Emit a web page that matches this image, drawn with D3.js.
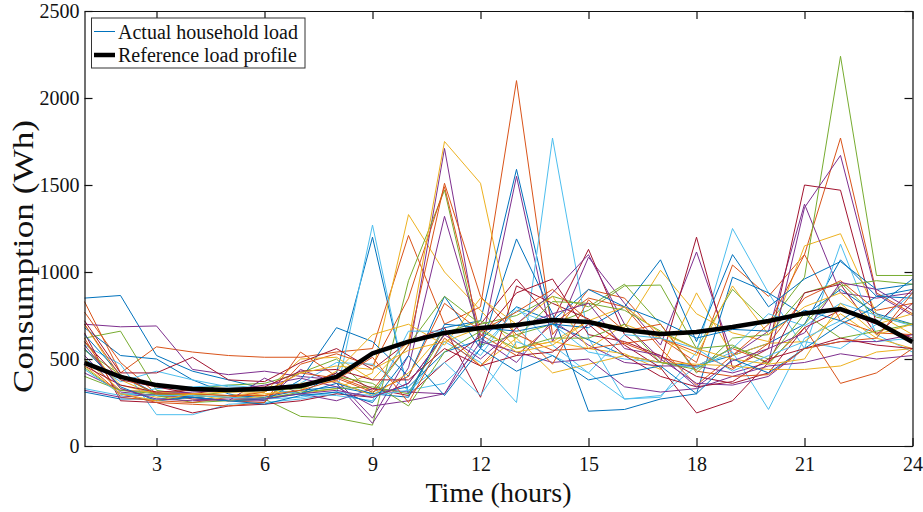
<!DOCTYPE html>
<html>
<head>
<meta charset="utf-8">
<script src="https://cdn.jsdelivr.net/npm/d3@7"></script>
<style>
  html, body { margin: 0; padding: 0; background: #fff; }
  svg { display: block; }
  text { font-family: "Liberation Serif", "Times New Roman", serif; fill: #111; }
</style>
</head>
<body>
<svg id="chart" width="923" height="512"></svg>
<script>
// ---------------- data ----------------
const hours = d3.range(1, 25);
const xTicks = [3, 6, 9, 12, 15, 18, 21, 24];
const yTicks = [0, 500, 1000, 1500, 2000, 2500];
const seriesNames = ["Actual household load", "Reference load profile"];

const referenceLoad = [478, 397, 350, 328, 322, 328, 345, 397, 532, 600, 650, 678, 695, 724, 713, 667, 644, 655, 684, 718, 762, 787, 713, 598];

const household01 = [850, 865, 520, 430, 380, 330, 300, 420, 1200, 300, 680, 720, 1590, 700, 610, 520, 480, 460, 520, 590, 700, 1070, 860, 900];
const household02 = [830, 420, 570, 540, 520, 510, 510, 540, 560, 1210, 700, 800, 2100, 640, 900, 850, 620, 480, 1040, 860, 1100, 1770, 880, 760];
const household03 = [700, 380, 290, 270, 260, 280, 300, 330, 420, 1330, 1000, 780, 560, 600, 720, 680, 1010, 760, 650, 600, 1150, 1220, 760, 640];
const household04 = [700, 685, 690, 440, 410, 430, 400, 380, 160, 520, 1710, 560, 1550, 600, 1085, 820, 580, 1115, 520, 660, 1390, 880, 850, 880];
const household05 = [620, 660, 320, 290, 280, 270, 170, 160, 120, 950, 1470, 580, 640, 700, 780, 920, 925, 560, 900, 700, 970, 2240, 980, 980];
const household06 = [580, 470, 180, 180, 240, 250, 270, 300, 1270, 290, 600, 480, 250, 1770, 620, 270, 280, 540, 1250, 880, 560, 1160, 640, 540];
const household07 = [650, 260, 250, 190, 230, 240, 260, 300, 280, 360, 640, 700, 960, 720, 1130, 640, 480, 1200, 450, 560, 1500, 1470, 700, 900];
const household08 = [680, 520, 500, 380, 300, 260, 380, 680, 600, 400, 860, 560, 1190, 760, 200, 210, 270, 300, 970, 880, 750, 900, 760, 700];
const household09 = [770, 480, 300, 280, 260, 250, 470, 530, 460, 850, 1490, 640, 520, 700, 850, 800, 560, 350, 520, 700, 1100, 720, 650, 640];
const household10 = [600, 330, 280, 300, 290, 310, 500, 510, 380, 600, 1750, 1510, 560, 600, 560, 530, 440, 880, 520, 590, 600, 760, 620, 560];
const household11 = [520, 310, 290, 280, 260, 260, 440, 360, 130, 450, 1320, 620, 480, 720, 580, 480, 460, 460, 420, 480, 1370, 1670, 870, 750];
const household12 = [450, 300, 290, 330, 350, 360, 420, 500, 300, 580, 860, 700, 750, 860, 800, 930, 700, 420, 620, 640, 880, 940, 740, 700];
const household13 = [500, 370, 430, 380, 340, 330, 360, 480, 470, 320, 360, 560, 780, 700, 540, 500, 480, 450, 540, 210, 620, 720, 600, 620];
const household14 = [720, 420, 420, 510, 380, 370, 480, 560, 440, 600, 680, 280, 920, 820, 730, 580, 450, 190, 260, 480, 880, 930, 640, 820];
const household15 = [640, 410, 300, 280, 290, 280, 320, 340, 300, 340, 540, 610, 800, 720, 900, 800, 1070, 600, 1100, 800, 960, 1060, 900, 930];
const household16 = [480, 300, 250, 240, 230, 250, 540, 400, 320, 580, 1510, 860, 640, 550, 560, 590, 510, 460, 560, 480, 680, 360, 420, 560];
const household17 = [560, 350, 300, 290, 280, 300, 320, 430, 640, 700, 580, 850, 700, 860, 560, 700, 620, 520, 920, 640, 800, 880, 700, 760];
const household18 = [420, 320, 310, 270, 260, 390, 300, 260, 330, 310, 300, 660, 700, 880, 1100, 700, 500, 360, 350, 400, 560, 600, 600, 640];
const household19 = [550, 410, 290, 250, 260, 270, 310, 330, 340, 300, 650, 720, 620, 830, 820, 780, 660, 560, 580, 470, 700, 920, 950, 930];
const household20 = [330, 290, 330, 340, 350, 330, 300, 290, 260, 660, 660, 520, 800, 580, 420, 270, 290, 460, 560, 760, 690, 820, 750, 690];
const household21 = [600, 380, 340, 300, 330, 320, 340, 420, 330, 290, 480, 630, 880, 960, 640, 600, 520, 400, 360, 420, 680, 780, 700, 620];
const household22 = [310, 270, 270, 280, 260, 270, 300, 360, 300, 280, 700, 680, 660, 700, 680, 800, 720, 620, 670, 660, 780, 720, 860, 850];
const household23 = [620, 280, 260, 250, 280, 310, 420, 390, 310, 400, 820, 660, 770, 900, 720, 590, 620, 540, 440, 590, 850, 950, 780, 820];
const household24 = [500, 320, 310, 300, 260, 290, 360, 370, 290, 420, 660, 460, 620, 420, 470, 520, 480, 470, 460, 440, 440, 460, 540, 560];
const household25 = [320, 280, 300, 310, 320, 350, 390, 340, 230, 260, 300, 600, 540, 480, 500, 340, 310, 330, 400, 460, 480, 530, 500, 520];
const household26 = [400, 320, 300, 290, 310, 320, 330, 400, 360, 230, 540, 660, 560, 620, 620, 700, 480, 440, 570, 500, 760, 620, 660, 700];
const household27 = [440, 300, 290, 290, 280, 270, 280, 310, 290, 320, 480, 290, 600, 520, 420, 640, 620, 560, 430, 520, 600, 560, 700, 880];
const household28 = [460, 350, 310, 320, 330, 340, 430, 440, 380, 380, 560, 460, 520, 540, 700, 520, 400, 340, 370, 500, 560, 620, 580, 560];
const household29 = [560, 340, 260, 280, 260, 240, 290, 310, 250, 520, 290, 560, 430, 520, 380, 420, 460, 300, 500, 420, 560, 700, 800, 960];
const household30 = [700, 400, 300, 300, 290, 290, 320, 380, 510, 250, 620, 460, 680, 470, 840, 660, 700, 430, 400, 410, 560, 600, 620, 880];
const household31 = [460, 300, 260, 300, 310, 310, 420, 460, 440, 550, 600, 680, 540, 580, 720, 800, 650, 560, 500, 470, 500, 820, 640, 700];
const household32 = [580, 330, 270, 260, 270, 270, 300, 320, 280, 360, 640, 500, 680, 760, 820, 560, 520, 340, 490, 560, 650, 940, 900, 780];

const households = [household01, household02, household03, household04, household05, household06, household07, household08,
  household09, household10, household11, household12, household13, household14, household15, household16,
  household17, household18, household19, household20, household21, household22, household23, household24,
  household25, household26, household27, household28, household29, household30, household31, household32];

// ---------------- chart ----------------
const palette = ["#0072BD", "#D95319", "#EDB120", "#7E2F8E", "#77AC30", "#4DBEEE", "#A2142F"];
const color = i => palette[i % palette.length];

const svg = d3.select("#chart");
const plotLeft = 84.5, plotRight = 912.5, plotTop = 11, plotBottom = 446;

const x = d3.scaleLinear().domain([1, 24]).range([plotLeft, plotRight]);
const y = d3.scaleLinear().domain([0, 2500]).range([plotBottom, plotTop]);

const line = d3.line().x((d, i) => x(hours[i])).y(d => y(d));

const plot = svg.append("g");
plot.selectAll("path.hh")
  .data(households)
  .join("path")
  .attr("class", "hh")
  .attr("d", line)
  .attr("fill", "none")
  .attr("stroke", (d, i) => color(i))
  .attr("stroke-width", 1)
  .attr("stroke-linejoin", "miter");

plot.append("path")
  .datum(referenceLoad)
  .attr("d", line)
  .attr("fill", "none")
  .attr("stroke", "#000")
  .attr("stroke-width", 4.5)
  .attr("stroke-linejoin", "round");

// axes (MATLAB style: inward ticks on all four sides)
const tickLen = 8;
const axisStyle = g => {
  g.select(".domain").attr("stroke", "#111").attr("stroke-width", 1.2);
  g.selectAll(".tick line").attr("stroke", "#111").attr("stroke-width", 1.2);
  g.selectAll(".tick text").style("font-size", "20px").attr("fill", "#111");
};

svg.append("g").attr("transform", `translate(0,${plotBottom})`)
  .call(d3.axisBottom(x).tickValues(xTicks).tickSizeInner(-tickLen).tickSizeOuter(0))
  .call(axisStyle)
  .call(g => g.selectAll(".tick text").attr("dy", "0.71em").attr("y", 11));

svg.append("g").attr("transform", `translate(0,${plotTop})`)
  .call(d3.axisTop(x).tickValues(xTicks).tickSizeInner(-tickLen).tickSizeOuter(0).tickFormat(""))
  .call(axisStyle);

svg.append("g").attr("transform", `translate(${plotLeft},0)`)
  .call(d3.axisLeft(y).tickValues(yTicks).tickSizeInner(-tickLen).tickSizeOuter(0).tickFormat(d3.format("d")))
  .call(axisStyle)
  .call(g => g.selectAll(".tick text").attr("x", -5));

svg.append("g").attr("transform", `translate(${plotRight},0)`)
  .call(d3.axisRight(y).tickValues(yTicks).tickSizeInner(-tickLen).tickSizeOuter(0).tickFormat(""))
  .call(axisStyle);

// axis labels
svg.append("text")
  .attr("x", (plotLeft + plotRight) / 2).attr("y", 502)
  .attr("text-anchor", "middle")
  .style("font-size", "28px")
  .text("Time (hours)");

svg.append("text")
  .attr("transform", "translate(33,256.5) rotate(-90)")
  .attr("text-anchor", "middle")
  .style("font-size", "30px")
  .attr("textLength", 273)
  .attr("lengthAdjust", "spacingAndGlyphs")
  .text("Consumption (Wh)");

// legend
const lg = svg.append("g");
lg.append("rect")
  .attr("x", 91.5).attr("y", 18).attr("width", 213.5).attr("height", 50)
  .attr("fill", "#fff").attr("stroke", "#333").attr("stroke-width", 1);
const legendRows = [
  { name: seriesNames[0], stroke: palette[0], w: 1 },
  { name: seriesNames[1], stroke: "#000", w: 4.5 }
];
legendRows.forEach((r, i) => {
  const cy = 31.5 + i * 23.5;
  lg.append("line").attr("x1", 94).attr("x2", 115).attr("y1", cy).attr("y2", cy)
    .attr("stroke", r.stroke).attr("stroke-width", r.w);
  lg.append("text").attr("x", 118).attr("y", cy + 7)
    .style("font-size", "20px").text(r.name);
});
</script>
</body>
</html>
